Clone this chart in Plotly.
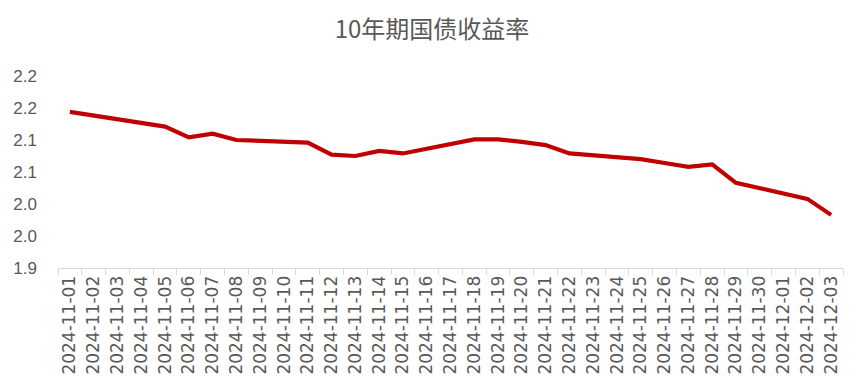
import plotly.graph_objects as go

dates = [
    "2024-11-01", "2024-11-02", "2024-11-03", "2024-11-04", "2024-11-05", "2024-11-06",
    "2024-11-07", "2024-11-08", "2024-11-09", "2024-11-10", "2024-11-11", "2024-11-12",
    "2024-11-13", "2024-11-14", "2024-11-15", "2024-11-16", "2024-11-17", "2024-11-18",
    "2024-11-19", "2024-11-20", "2024-11-21", "2024-11-22", "2024-11-23", "2024-11-24",
    "2024-11-25", "2024-11-26", "2024-11-27", "2024-11-28", "2024-11-29", "2024-11-30",
    "2024-12-01", "2024-12-02", "2024-12-03",
]
# weekends have no data (None); the line connects across them
yields = [
    2.144, None, None, 2.127, 2.121, 2.104,
    2.110, 2.100, None, None, 2.096, 2.077,
    2.075, 2.083, 2.079, None, None, 2.101,
    2.101, 2.097, 2.092, 2.079, None, None,
    2.070, 2.064, 2.058, 2.062, 2.033, None,
    None, 2.008, 1.983,
]
y_tickvals = [1.90, 1.95, 2.00, 2.05, 2.10, 2.15, 2.20]
y_ticktext = ["1.9", "2.0", "2.0", "2.1", "2.1", "2.2", "2.2"]

font_fam = "Liberation Sans, Arial, Noto Sans CJK SC, sans-serif"

fig = go.Figure(
    go.Scatter(
        x=dates,
        y=yields,
        mode="lines",
        connectgaps=True,
        line=dict(color="#C00000", width=4.2),
        hoverinfo="x+y",
    )
)

# the page body has an 8px margin, so the figure is offset by 8px right/down
fig.update_layout(
    width=866,
    height=390,
    paper_bgcolor="white",
    plot_bgcolor="white",
    margin=dict(l=50, r=31, t=68, b=130),
    showlegend=False,
    title=dict(
        text="10年期国债收益率",
        x=(432 - 8) / 866,
        xanchor="center",
        y=1 - 13 / 390,
        yanchor="top",
        font=dict(family="Noto Sans CJK SC, " + font_fam, size=24, color="#595959"),
    ),
    font=dict(family=font_fam, color="#595959"),
)

fig.update_xaxes(
    type="category",
    range=[-0.5, len(dates) - 0.5],
    tickangle=-90,
    tickson="boundaries",
    ticks="outside",
    ticklen=6,
    tickcolor="#d9d9d9",
    showline=True,
    linecolor="#d9d9d9",
    linewidth=1,
    showgrid=False,
    automargin=False,
    tickfont=dict(size=17, color="#595959", family="DejaVu Sans, " + font_fam),
)

fig.update_yaxes(
    range=[1.9, 2.2],
    tickvals=y_tickvals,
    ticktext=y_ticktext,
    showgrid=False,
    showline=False,
    zeroline=False,
    ticks="",
    automargin=False,
    ticklabelstandoff=20,
    tickfont=dict(size=17, color="#595959", family=font_fam),
)

fig.write_html("out.html")
